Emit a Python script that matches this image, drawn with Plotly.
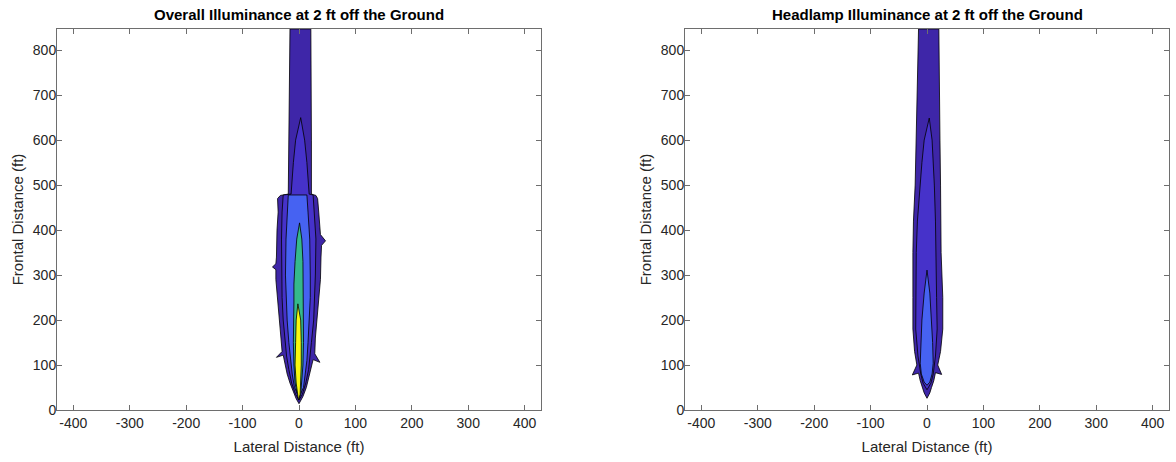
import plotly.graph_objects as go

# ---------------- axis ticks ----------------
X_TICKS = [-400, -300, -200, -100, 0, 100, 200, 300, 400]
X_TICK_LABELS = ["-400", "-300", "-200", "-100", "0", "100", "200", "300", "400"]
Y_TICKS = [0, 100, 200, 300, 400, 500, 600, 700, 800]
Y_TICK_LABELS = ["0", "100", "200", "300", "400", "500", "600", "700", "800"]
X_RANGE = [-429, 429]
Y_RANGE = [0, 847]

TITLE_LEFT = "Overall Illuminance at 2 ft off the Ground"
TITLE_RIGHT = "Headlamp Illuminance at 2 ft off the Ground"
X_LABEL = "Lateral Distance (ft)"
Y_LABEL = "Frontal Distance (ft)"

# parula band colours (lowest -> highest level)
BAND_COLORS = ["#3E26A8", "#4632CA", "#4662F2", "#35B98C", "#F9F90F"]

# ---------------- Overall illuminance contour bands (ft) ----------------
# level 1 (outermost)
OV1_LY = [847, 700, 600, 480, 477, 470, 440, 400, 340, 325, 318, 312, 290, 240, 200, 160, 130, 117, 122, 100, 80, 60, 40, 25, 14]
OV1_LX = [-16, -17, -18, -19, -33, -38, -37, -39, -40, -41, -47, -41, -41, -38, -35, -32, -30, -40, -28, -25, -21, -16, -10, -5, 0]
OV1_RY = [847, 700, 600, 480, 477, 470, 440, 390, 376, 366, 340, 290, 240, 200, 160, 125, 106, 112, 90, 70, 50, 30, 14]
OV1_RX = [21, 22, 22, 22, 30, 33, 35, 38, 47, 40, 39, 38, 35, 32, 29, 28, 37, 25, 21, 17, 13, 7, 0]
# level 2
OV2_LY = [650, 600, 550, 500, 480, 478, 440, 380, 300, 250, 200, 150, 120, 90, 60, 35, 22]
OV2_LX = [3, -6, -10, -13, -14, -28, -30, -31, -31, -30, -28, -25, -22, -18, -13, -6, 0]
OV2_RY = [650, 600, 550, 500, 480, 478, 440, 380, 300, 250, 200, 150, 120, 90, 60, 35, 22]
OV2_RX = [3, 10, 14, 17, 18, 25, 27, 30, 29, 28, 26, 22, 20, 17, 12, 6, 0]
# level 3
OV3_LY = [478, 440, 380, 300, 250, 200, 150, 110, 80, 50, 28]
OV3_LX = [-19, -21, -23, -24, -23, -21, -18, -15, -12, -8, 0]
OV3_RY = [478, 440, 380, 300, 250, 200, 150, 110, 80, 50, 28]
OV3_RX = [14, 16, 19, 20, 20, 18, 16, 14, 11, 8, 0]
# level 4
OV4_LY = [416, 380, 330, 280, 240, 200, 150, 100, 60, 35, 24]
OV4_LX = [1, -4, -7, -9, -9, -10, -10, -9, -7, -3, 0]
OV4_RY = [416, 380, 330, 280, 240, 200, 150, 100, 60, 35, 24]
OV4_RX = [1, 5, 7, 8, 8, 8, 8, 7, 5, 3, 0]
# level 5 (highest)
OV5_LY = [236, 200, 150, 100, 60, 35, 22]
OV5_LX = [-2, -5, -6, -7, -5, -3, -1]
OV5_RY = [236, 200, 150, 100, 60, 35, 22]
OV5_RX = [-2, 3, 4, 4, 3, 2, -1]

# ---------------- Headlamp illuminance contour bands (ft) ----------------
HL1_LY = [847, 700, 600, 500, 420, 350, 250, 180, 130, 100, 78, 82, 65, 50, 38, 26]
HL1_LX = [-15, -17, -19, -21, -24, -25, -25, -25, -22, -18, -26, -15, -12, -8, -5, 0]
HL1_RY = [847, 700, 600, 500, 420, 350, 250, 180, 130, 100, 79, 83, 65, 50, 38, 26]
HL1_RX = [21, 22, 23, 24, 25, 25, 28, 28, 24, 19, 26, 15, 12, 8, 5, 0]
HL2_LY = [649, 600, 550, 500, 420, 350, 250, 180, 120, 80, 60, 45]
HL2_LX = [4, -5, -9, -12, -17, -19, -20, -20, -16, -11, -7, 0]
HL2_RY = [649, 600, 550, 500, 420, 350, 250, 180, 120, 80, 60, 45]
HL2_RX = [4, 9, 11, 13, 15, 16, 17, 18, 15, 11, 7, 0]
HL3_LY = [311, 260, 200, 150, 104, 80, 62, 55]
HL3_LX = [0, -5, -9, -11, -12, -10, -5, 0]
HL3_RY = [311, 260, 200, 150, 104, 80, 62, 55]
HL3_RX = [0, 5, 8, 10, 11, 9, 5, 0]

OVERALL_BANDS = [
    (OV1_LX, OV1_LY, OV1_RX, OV1_RY),
    (OV2_LX, OV2_LY, OV2_RX, OV2_RY),
    (OV3_LX, OV3_LY, OV3_RX, OV3_RY),
    (OV4_LX, OV4_LY, OV4_RX, OV4_RY),
    (OV5_LX, OV5_LY, OV5_RX, OV5_RY),
]
HEADLAMP_BANDS = [
    (HL1_LX, HL1_LY, HL1_RX, HL1_RY),
    (HL2_LX, HL2_LY, HL2_RX, HL2_RY),
    (HL3_LX, HL3_LY, HL3_RX, HL3_RY),
]

fig = go.Figure()


def add_bands(bands, xa, ya):
    for i, (lx, ly, rx, ry) in enumerate(bands):
        xs = list(lx) + list(rx)[::-1] + [lx[0]]
        ys = list(ly) + list(ry)[::-1] + [ly[0]]
        fig.add_trace(go.Scatter(
            x=xs, y=ys, mode="lines", fill="toself",
            fillcolor=BAND_COLORS[i],
            line=dict(color="black", width=0.8),
            xaxis=xa, yaxis=ya, showlegend=False, hoverinfo="skip",
        ))


add_bands(OVERALL_BANDS, "x", "y")
add_bands(HEADLAMP_BANDS, "x2", "y2")

W, H = 1176, 462
left_dom = [57 / W, 541 / W]
right_dom = [685 / W, 1169 / W]
y_dom = [(H - 410) / H, (H - 29) / H]

FONT = "Liberation Sans, Arial, sans-serif"
AX_COLOR = "#262626"

axis_common = dict(
    showgrid=False, zeroline=False, showline=True, linecolor="#6e6e6e", linewidth=1,
    mirror="allticks", ticks="inside", ticklen=5, tickcolor="#6e6e6e",
    tickfont=dict(family=FONT, size=14, color=AX_COLOR), automargin=False,
)

def xaxis(dom, anchor):
    return dict(axis_common, domain=dom, anchor=anchor, range=X_RANGE,
                tickvals=X_TICKS, ticktext=X_TICK_LABELS,
                title=dict(text=X_LABEL, font=dict(family=FONT, size=15, color=AX_COLOR), standoff=11))

def yaxis(anchor):
    return dict(axis_common, domain=y_dom, anchor=anchor, range=Y_RANGE,
                tickvals=Y_TICKS, ticktext=Y_TICK_LABELS, ticklabelstandoff=-3,
                title=dict(text=Y_LABEL, font=dict(family=FONT, size=15, color=AX_COLOR), standoff=5))

fig.update_layout(
    width=W, height=H, margin=dict(l=0, r=0, t=0, b=0),
    paper_bgcolor="white", plot_bgcolor="white",
    xaxis=xaxis(left_dom, "y"), yaxis=yaxis("x"),
    xaxis2=xaxis(right_dom, "y2"), yaxis2=yaxis("x2"),
    annotations=[
        dict(text="<b>" + TITLE_LEFT + "</b>", x=sum(left_dom) / 2, y=(H - 15) / H,
             xref="paper", yref="paper", showarrow=False, xanchor="center", yanchor="middle",
             font=dict(family=FONT, size=15, color="black")),
        dict(text="<b>" + TITLE_RIGHT + "</b>", x=sum(right_dom) / 2, y=(H - 15) / H,
             xref="paper", yref="paper", showarrow=False, xanchor="center", yanchor="middle",
             font=dict(family=FONT, size=15, color="black")),
    ],
)

fig.write_html("out.html", config={"displayModeBar": False},
               post_script="document.body.style.margin='0px';")
